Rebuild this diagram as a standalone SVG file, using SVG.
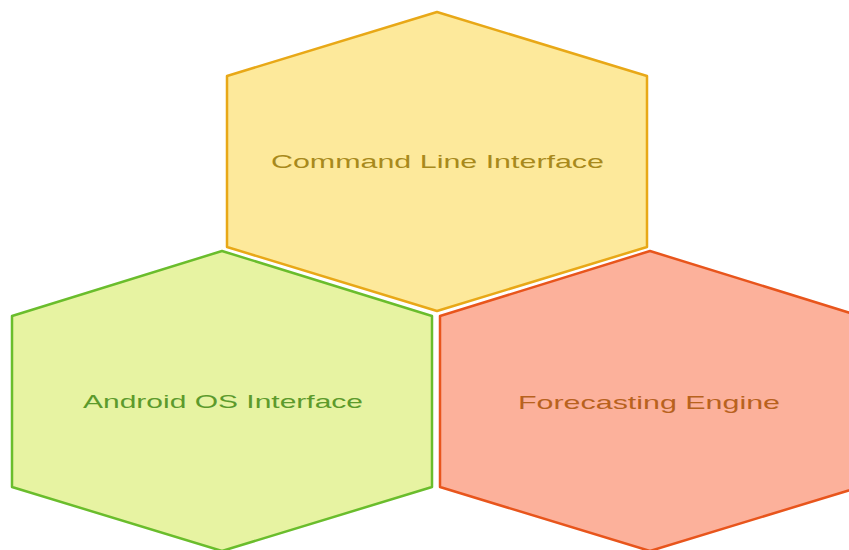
<svg xmlns="http://www.w3.org/2000/svg" width="849" height="550" viewBox="0 0 849 550">
<style>
.hex{stroke-width:2.5;stroke-linejoin:round}
.lbl{font-family:"Liberation Sans",Arial,sans-serif;font-size:19px;text-anchor:middle}
</style>
<rect width="849" height="550" fill="#ffffff"/>
<g id="cli">
<polygon class="hex" points="437,12 647,76 647,247 437,311 227,247 227,76" fill="#fde99b" stroke="#e8a817"/>
<text class="lbl" x="437.5" y="168" fill="#a8891c" textLength="333" lengthAdjust="spacingAndGlyphs">Command Line Interface</text>
</g>
<g id="android">
<polygon class="hex" points="222,251 432,316 432,487 222,551 12,487 12,316" fill="#e7f3a2" stroke="#6abd2c"/>
<text class="lbl" x="223" y="408" fill="#5c9a2c" textLength="280" lengthAdjust="spacingAndGlyphs">Android OS Interface</text>
</g>
<g id="forecast">
<polygon class="hex" points="650,251 860,316 860,487 650,551 440,487 440,316" fill="#fcb19b" stroke="#e8551c"/>
<text class="lbl" x="649" y="409" fill="#b8621e" textLength="262" lengthAdjust="spacingAndGlyphs">Forecasting Engine</text>
</g>
<g id="connectors"></g>
</svg>
